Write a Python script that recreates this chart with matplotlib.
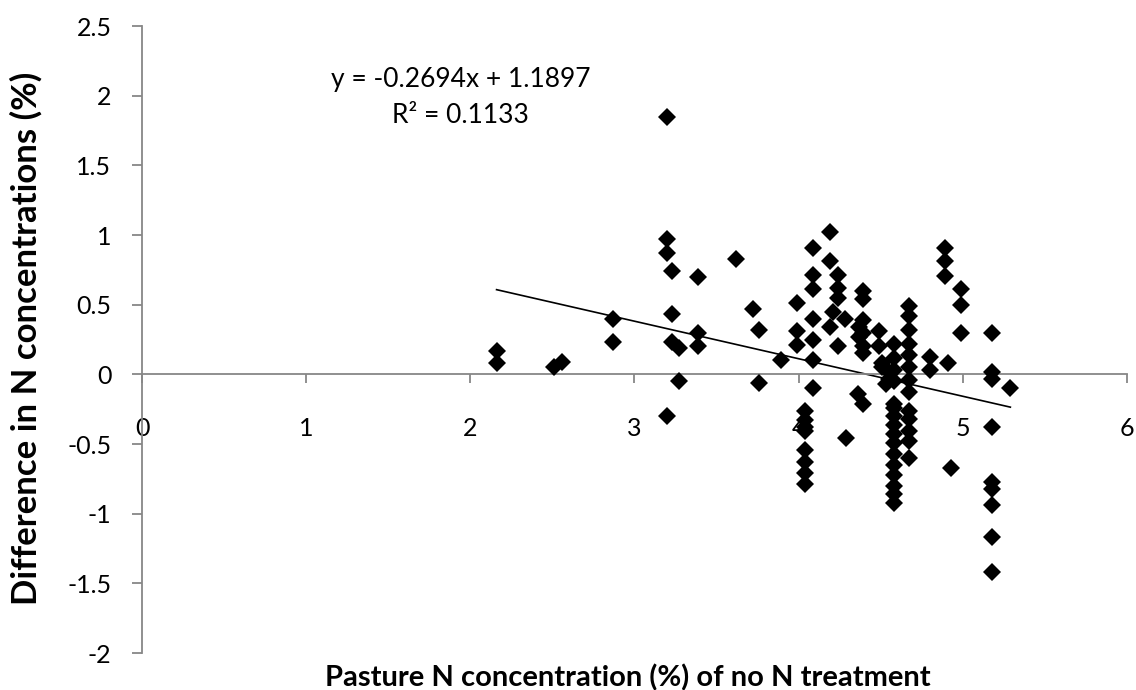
"""
Pasture N response: difference in N concentration vs. baseline N of the no-N treatment.
Scatter with linear trendline, Excel-style axes.
"""

import matplotlib
import matplotlib.pyplot as plt
import numpy as np

matplotlib.use("Agg")

# ---------------------------------------------------------------------------
# Data
# ---------------------------------------------------------------------------

PASTURE_N = [
    2.16, 2.16, 2.51, 2.56,
    2.87, 2.87,
    3.20, 3.20, 3.20, 3.20,
    3.23, 3.23, 3.23,
    3.27, 3.27,
    3.39, 3.39, 3.39,
    3.62, 3.72, 3.76, 3.76, 3.89,
    3.99, 3.99, 3.99,
    4.04, 4.04, 4.04, 4.04, 4.04, 4.04, 4.04, 4.04,
    4.09, 4.09, 4.09, 4.09, 4.09, 4.09, 4.09,
    4.19, 4.19, 4.19, 4.21,
    4.24, 4.24, 4.24, 4.24,
    4.28, 4.29, 4.36,
    4.37, 4.37,
    4.39, 4.39, 4.39, 4.39, 4.39, 4.39, 4.39,
    4.49, 4.49,
    4.51, 4.51, 4.53, 4.55, 4.55,
    4.58, 4.58, 4.58, 4.58, 4.58, 4.58, 4.58, 4.58,
    4.58, 4.58, 4.58, 4.58, 4.58, 4.58, 4.58, 4.58,
    4.67, 4.67, 4.67, 4.67, 4.67, 4.67, 4.67,
    4.67, 4.67, 4.67, 4.67, 4.67, 4.67,
    4.80, 4.80,
    4.89, 4.89, 4.89, 4.91, 4.93,
    4.99, 4.99, 4.99,
    5.18, 5.18, 5.18, 5.18, 5.18, 5.18, 5.18, 5.18, 5.18,
    5.29,
]

N_DIFFERENCE = [
    0.17, 0.08, 0.05, 0.09,
    0.40, 0.23,
    1.85, 0.97, 0.87, -0.30,
    0.74, 0.43, 0.23,
    0.19, -0.05,
    0.70, 0.30, 0.20,
    0.83, 0.47, 0.32, -0.06, 0.10,
    0.51, 0.31, 0.21,
    -0.26, -0.33, -0.38, -0.41, -0.54, -0.63, -0.71, -0.79,
    0.91, 0.71, 0.61, 0.40, 0.25, 0.10, -0.10,
    1.02, 0.81, 0.34, 0.45,
    0.71, 0.62, 0.55, 0.20,
    0.40, -0.46, -0.14,
    0.34, 0.27,
    0.60, 0.54, 0.39, 0.30, 0.20, 0.15, -0.21,
    0.31, 0.20,
    0.08, 0.05, -0.07, -0.03, 0.02,
    0.22, 0.12, 0.03, -0.05, -0.21, -0.24, -0.30, -0.36,
    -0.43, -0.49, -0.57, -0.65, -0.72, -0.80, -0.86, -0.92,
    0.49, 0.42, 0.32, 0.22, 0.14, 0.05, -0.04,
    -0.13, -0.26, -0.32, -0.41, -0.48, -0.60,
    0.125, 0.03,
    0.91, 0.81, 0.705, 0.08, -0.67,
    0.61, 0.50, 0.30,
    0.30, 0.02, -0.03, -0.38, -0.77, -0.82, -0.94, -1.17, -1.42,
    -0.10,
]

# Trendline as reported on the chart
SLOPE = -0.2694
INTERCEPT = 1.1897
R_SQUARED = 0.1133

X_TICKS = [0, 1, 2, 3, 4, 5, 6]
Y_TICKS = [2.5, 2, 1.5, 1, 0.5, 0, -0.5, -1, -1.5, -2]
Y_TICK_LABELS = ["2.5", "2", "1.5", "1", "0.5", "0", "-0.5", "-1", "-1.5", "-2"]

AXIS_GREY = "#878787"
FONT = "Lato"


def main() -> None:
    plt.rcParams["font.family"] = [FONT, "DejaVu Sans"]

    fig = plt.figure(figsize=(11.36, 6.90), dpi=100)
    ax = fig.add_axes([0.125, 0.0536, 0.867, 0.9087])

    ax.plot(
        PASTURE_N,
        N_DIFFERENCE,
        linestyle="none",
        marker="D",
        markersize=9.4,
        color="black",
        markeredgewidth=0,
        zorder=3,
    )

    # Linear trendline over the observed x range
    x_fit = np.array([min(PASTURE_N), max(PASTURE_N)])
    ax.plot(x_fit, SLOPE * x_fit + INTERCEPT, color="black", linewidth=1.2, zorder=2)

    ax.text(
        1.94,
        1.99,
        f"y = {SLOPE:.4f}x + {INTERCEPT:.4f}\nR\u00b2 = {R_SQUARED:.4f}",
        ha="center",
        va="center",
        fontsize=19,
        linespacing=1.55,
    )

    ax.set_xlim(0, 6)
    ax.set_ylim(-2, 2.5)

    # Excel-like spines: y axis on left, x axis crossing at zero
    for side in ("top", "right"):
        ax.spines[side].set_visible(False)
    ax.spines["bottom"].set_position(("data", 0))
    for side in ("left", "bottom"):
        ax.spines[side].set_color(AXIS_GREY)
        ax.spines[side].set_linewidth(1.3)

    ax.set_xticks(X_TICKS)
    ax.set_xticklabels([str(t) for t in X_TICKS])
    ax.set_yticks(Y_TICKS)
    ax.set_yticklabels(Y_TICK_LABELS)
    ax.tick_params(axis="x", direction="out", length=6.5, width=1.3, color=AXIS_GREY,
                   pad=24, labelsize=18)
    ax.tick_params(axis="y", direction="out", length=7, width=1.3, color=AXIS_GREY,
                   pad=15, labelsize=18)

    fig.text(
        0.553, 0.018,
        "Pasture N concentration (%) of no N treatment",
        ha="center", va="center", fontsize=21, fontweight="bold",
    )
    fig.text(
        0.023, 0.51,
        "Difference in N concentrations (%)",
        ha="center", va="center", rotation=90, fontsize=25, fontweight="bold",
    )

    fig.savefig("out.png", dpi=100)
    plt.close(fig)


if __name__ == "__main__":
    main()
